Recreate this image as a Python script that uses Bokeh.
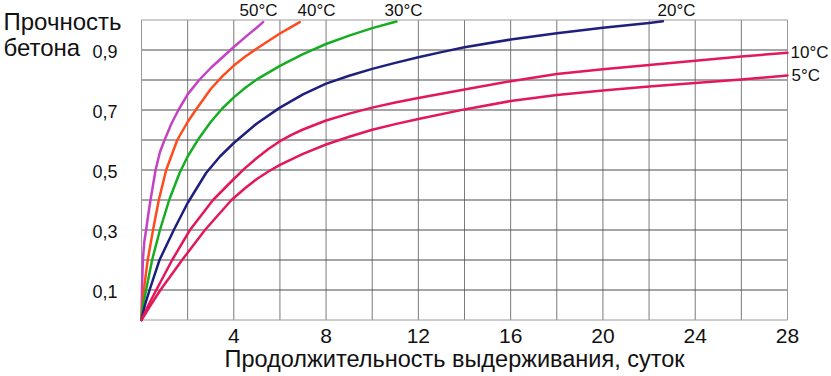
from bokeh.plotting import figure
from bokeh.models import Range1d
from bokeh.core.properties import value
from bokeh.embed import file_html
from bokeh.resources import INLINE

# ---- data (days, relative strength) ----
d50 = [0, 0.01, 0.02, 0.06, 0.12, 0.2, 0.3, 0.39, 0.61, 0.8, 1.0, 1.3, 1.6, 2.0, 2.5, 3.0, 3.5, 4.0, 4.5, 5.0, 5.27]
v50 = [0, 0.05, 0.1, 0.2, 0.26, 0.3, 0.355, 0.4, 0.5, 0.56, 0.6, 0.655, 0.7, 0.752, 0.8, 0.84, 0.875, 0.91, 0.943, 0.975, 0.993]

d40 = [0, 0.03, 0.1, 0.27, 0.5, 0.75, 1.07, 1.55, 2.0, 2.35, 3.0, 3.5, 4.0, 4.5, 5.0, 5.5, 6.0, 6.5, 6.86]
v40 = [0, 0.05, 0.1, 0.2, 0.3, 0.4, 0.5, 0.6, 0.66, 0.7, 0.77, 0.812, 0.848, 0.878, 0.905, 0.93, 0.955, 0.977, 0.993]

d30 = [0, 0.07, 0.2, 0.46, 0.8, 1.2, 1.65, 2.0, 2.5, 3.0, 3.5, 4.0, 4.5, 5.0, 6.0, 7.0, 8.0, 9.0, 10.0, 11.05]
v30 = [0, 0.05, 0.1, 0.2, 0.3, 0.4, 0.49, 0.545, 0.607, 0.66, 0.705, 0.742, 0.774, 0.802, 0.847, 0.886, 0.92, 0.948, 0.973, 0.995]

d20 = [0, 0.15, 0.35, 0.78, 1.4, 2.0, 2.8, 3.4, 4.0, 5.0, 6.0, 7.0, 8.0, 9.0, 10.0, 11.0, 12.0, 13.0, 14.0, 16.0, 18.0, 20.0, 22.0, 22.6]
v20 = [0, 0.05, 0.1, 0.2, 0.3, 0.39, 0.49, 0.545, 0.59, 0.655, 0.708, 0.752, 0.788, 0.814, 0.837, 0.857, 0.876, 0.893, 0.909, 0.935, 0.956, 0.974, 0.99, 0.996]

d10 = [0, 0.3, 0.64, 1.33, 2.1, 3.1, 4.0, 4.5, 5.0, 5.5, 6.0, 6.5, 7.0, 8.0, 9.0, 10.0, 11.0, 12.0, 14.0, 16.0, 18.0, 20.0, 22.0, 24.0, 26.0, 28.0]
v10 = [0, 0.05, 0.1, 0.2, 0.3, 0.4, 0.47, 0.507, 0.54, 0.57, 0.596, 0.617, 0.635, 0.665, 0.688, 0.708, 0.725, 0.74, 0.768, 0.796, 0.82, 0.836, 0.85, 0.864, 0.878, 0.891]

d5 = [0, 0.4, 0.82, 1.76, 2.75, 3.9, 4.5, 5.0, 5.5, 6.0, 7.0, 8.0, 9.0, 10.0, 11.0, 12.0, 14.0, 16.0, 18.0, 20.0, 22.0, 24.0, 26.0, 28.0]
v5 = [0, 0.05, 0.1, 0.2, 0.3, 0.4, 0.44, 0.47, 0.495, 0.517, 0.554, 0.585, 0.611, 0.634, 0.653, 0.67, 0.702, 0.73, 0.75, 0.765, 0.778, 0.79, 0.802, 0.815]

series_names = ["50°C", "40°C", "30°C", "20°C", "10°C", "5°C"]
series_x = [d50, d40, d30, d20, d10, d5]
series_y = [v50, v40, v30, v20, v10, v5]
series_colors = ["#c442c4", "#ff4b1e", "#16ad22", "#1f1f7d", "#e3185a", "#e3185a"]

# curve label anchor points (data units)
label_x = [5.07, 7.59, 11.36, 23.19, 28.13, 28.17]
label_y = [1.033, 1.033, 1.033, 1.033, 0.893, 0.815]
label_align = ["center", "center", "center", "center", "left", "left"]

x_ticks = [4, 8, 12, 16, 20, 24, 28]
x_tick_labels = ["4", "8", "12", "16", "20", "24", "28"]
y_ticks = [0.1, 0.3, 0.5, 0.7, 0.9]
y_tick_labels = ["0,1", "0,3", "0,5", "0,7", "0,9"]
x_grid = [0, 2, 4, 6, 8, 10, 12, 14, 16, 18, 20, 22, 24, 26, 28]
y_grid = [0, 0.1, 0.2, 0.3, 0.4, 0.5, 0.6, 0.7, 0.8, 0.9, 1.0]
x_lo, x_hi = 0, 28
y_lo, y_hi = 0, 1.0

x_title = "Продолжительность выдерживания, суток"
y_title = ["Прочность", "бетона"]

FONT = "Liberation Sans"
W, H = 831, 376
# plot area in pixels: left 141, right 787, top 19.5, bottom 319.5
ppx = (787 - 141) / (x_hi - x_lo)
ppy = (319.5 - 19.5) / (y_hi - y_lo)
xr = Range1d(x_lo - 141 / ppx, x_lo + (W - 141) / ppx)
yr = Range1d(y_lo - (H - 319.5) / ppy, y_lo + 319.5 / ppy)

p = figure(width=W, height=H, output_backend="svg", toolbar_location=None,
           x_range=xr, y_range=yr, x_axis_type=None, y_axis_type=None, min_border=0)
p.outline_line_color = None
p.grid.visible = False
p.background_fill_color = "white"
p.border_fill_color = "white"

# grid
inner_x = [g for g in x_grid if g not in (x_lo, x_hi)]
inner_y = [g for g in y_grid if g not in (y_lo, y_hi)]
p.segment(x0=inner_x, y0=[y_lo] * len(inner_x), x1=inner_x, y1=[y_hi] * len(inner_x),
          line_color="#7a7a7a", line_width=1)
p.segment(x0=[x_lo] * len(inner_y), y0=inner_y, x1=[x_hi] * len(inner_y), y1=inner_y,
          line_color="#4d4d4d", line_width=1)
edge_x = [x_lo, x_hi]
p.segment(x0=edge_x, y0=[y_lo, y_lo], x1=edge_x, y1=[y_hi, y_hi], line_color="#9a9a9a", line_width=1)
edge_y = [y_lo, y_hi]
p.segment(x0=[x_lo, x_lo], y0=edge_y, x1=[x_hi, x_hi], y1=edge_y, line_color="#9a9a9a", line_width=1)

for xs, ys, c in zip(series_x, series_y, series_colors):
    p.line(xs, ys, line_color=c, line_width=2.5, line_join="round", line_cap="round")

# tick labels
p.text(x=x_ticks, y=[y_lo - 15.5 / ppy] * len(x_ticks), text=x_tick_labels,
       text_font=value(FONT), text_font_size=value("21px"), text_color="#111111",
       text_align="center", text_baseline="middle")
p.text(x=[x_lo - 24 / ppx] * len(y_ticks), y=[t - 1.2 / ppy for t in y_ticks], text=y_tick_labels,
       text_font=value(FONT), text_font_size=value("18px"), text_color="#111111",
       text_align="right", text_baseline="middle")

# curve labels
p.text(x=label_x, y=label_y, text=series_names, text_align=label_align,
       text_font=value(FONT), text_font_size=value("17px"), text_color="#111111",
       text_baseline="middle")

# axis titles
p.text(x=[13.57], y=[y_lo - 38.5 / ppy], text=[x_title], text_align="center", text_baseline="middle",
       text_font=value(FONT), text_font_size=value("23.5px"), text_color="#111111")
p.text(x=[x_lo - 138 / ppx] * 2, y=[0.9957, 0.9097], text=y_title, text_align="left",
       text_baseline="middle", text_font=value(FONT), text_font_size=value("24px"),
       text_color="#111111")

open("out.html", "w").write(file_html(p, INLINE))
